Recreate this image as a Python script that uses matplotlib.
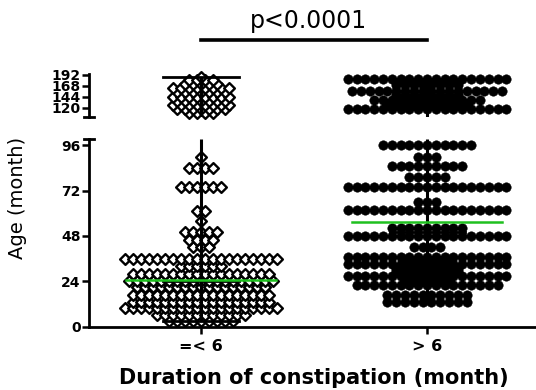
import numpy as np
import matplotlib.pyplot as plt
from matplotlib.transforms import blended_transform_factory

# Groups on the x axis
groups = ["=< 6", "> 6"]

# Age (month) of each dot row and how many dots sit on that row
short_ages = [3, 6, 10, 13, 17, 21, 24, 28, 32, 36, 42, 46, 50, 56, 61, 74, 84, 90,
              108, 117, 126, 135, 144, 154, 163, 172, 181, 188]
short_counts = [9, 12, 20, 18, 18, 17, 19, 18, 6, 20, 3, 4, 5, 1, 2, 6, 4, 1,
                4, 7, 8, 7, 8, 7, 8, 5, 4, 1]

long_ages = [13, 17, 22, 25, 27, 30, 33, 35, 37, 42, 48, 52, 62, 66, 74, 79, 85, 90, 96,
             117, 127, 137, 147, 157, 170, 182]
long_counts = [10, 10, 17, 6, 19, 8, 19, 6, 19, 4, 19, 9, 19, 3, 19, 5, 9, 3, 11,
               19, 10, 13, 8, 18, 8, 19]

# summary lines
means = [24.5, 55.5]
medians = [24, 50]

lower_lim = (0, 99.3)
upper_lim = (100, 193)
xlim = (-0.4956, 1.482)


def spread(ages, counts, step):
    # put the dots of one row side by side, centred on the group
    xs, ys = [], []
    for a, n in zip(ages, counts):
        xs.extend((np.arange(n) - (n - 1) / 2) * step)
        ys.extend([a] * n)
    return np.array(xs), np.array(ys)


fig = plt.figure(figsize=(5.36, 3.90), dpi=100)
ax_lo = fig.add_axes([0.166, 0.1623, 0.834, 0.4813])
ax_hi = fig.add_axes([0.166, 0.7008, 0.834, 0.1082])

sx, sy = spread(short_ages, short_counts, 0.0354)
lx, ly = spread(long_ages, long_counts, 0.039)

for ax, lim in ((ax_lo, lower_lim), (ax_hi, upper_lim)):
    m = (sy >= lim[0]) & (sy <= lim[1])
    ax.scatter(sx[m] + 0, sy[m], marker='D', s=30, facecolor='white',
               edgecolor='black', linewidths=1.7, zorder=2, clip_on=False)
    m = (ly >= lim[0]) & (ly <= lim[1])
    ax.scatter(lx[m] + 1, ly[m], marker='o', s=46, color='black',
               linewidths=0.4, zorder=2, clip_on=False)

    ax.set_xlim(*xlim)
    ax.set_ylim(*lim)
    for s in ('top', 'right'):
        ax.spines[s].set_visible(False)
    ax.spines['left'].set_linewidth(2)
    ax.spines['bottom'].set_linewidth(2)
    ax.tick_params(axis='y', length=5, width=1.8, pad=1, labelsize=10)
    # little caps where the axis is broken
    yb = 1 if ax is ax_lo else 0
    ax.plot([-0.012, 0.012], [yb, yb], color='black', lw=2,
            transform=ax.transAxes, clip_on=False)

# range, median and mean lines
all_data = [(sy, 0), (ly, 1)]
for i, (vals, xc) in enumerate(all_data):
    lo, hi = vals.min(), vals.max()
    ax_lo.plot([xc, xc], [lo, lower_lim[1]], color='black', lw=2.2, zorder=3,
               solid_capstyle='butt')
    ax_hi.plot([xc, xc], [upper_lim[0], hi], color='black', lw=2.2, zorder=3,
               solid_capstyle='butt')
    ax_lo.plot([xc - 0.166, xc + 0.166], [lo, lo], color='black', lw=2, zorder=3)
    ax_hi.plot([xc - 0.166, xc + 0.166], [hi, hi], color='black', lw=2, zorder=3,
               clip_on=False)
    ax_lo.plot([xc - 0.166, xc + 0.166], [medians[i], medians[i]], color='black',
               lw=2, zorder=3)
    ax_lo.plot([xc - 0.333, xc + 0.333], [means[i], means[i]], color='#1fc01f',
               lw=1.8, zorder=4)

ax_lo.set_yticks([0, 24, 48, 72, 96])
ax_lo.set_yticklabels(['0', '24', '48', '72', '96'], fontweight='bold')
ax_lo.set_xticks([0, 1])
ax_lo.set_xticklabels(groups, fontweight='bold', fontsize=11.5)
ax_lo.tick_params(axis='x', length=5, width=1.8, pad=4)

ax_hi.set_yticks([120, 144, 168, 192])
ax_hi.set_yticklabels(['120', '144', '168', '192'], fontweight='bold')
ax_hi.spines['bottom'].set_visible(False)
ax_hi.set_xticks([])

fig.text(18 / 536, 1 - 198 / 390, 'Age (month)', rotation=90, ha='center',
         va='center', fontsize=14)
fig.text(314 / 536, 1 - 384 / 390, 'Duration of constipation (month)',
         ha='center', va='baseline', fontsize=15, fontweight='bold')

# significance bar between the two groups
tr = blended_transform_factory(ax_hi.transData, fig.transFigure)
ax_hi.plot([0, 1], [1 - 40 / 390] * 2, color='black', lw=2.6, transform=tr,
           clip_on=False)
fig.text(308 / 536, 1 - 28 / 390, 'p<0.0001', ha='center', va='baseline',
         fontsize=17)

fig.savefig('out.png', dpi=100)
